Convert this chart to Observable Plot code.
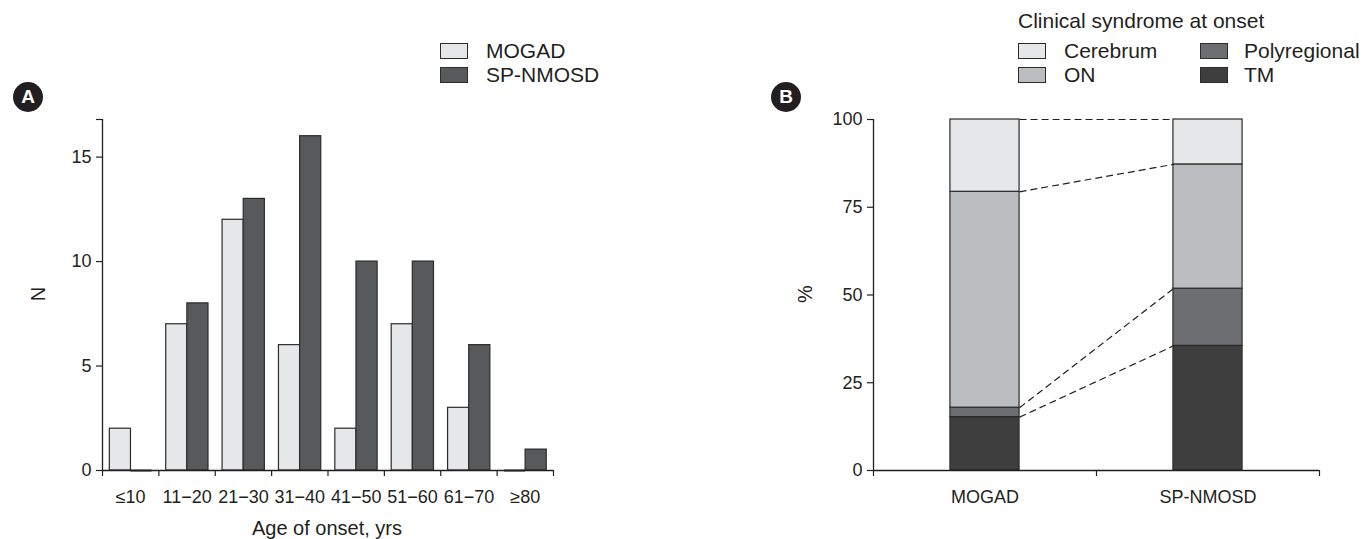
<!DOCTYPE html>
<html>
<head>
<meta charset="utf-8">
<script src="https://cdn.jsdelivr.net/npm/d3@7"></script>
<script src="https://cdn.jsdelivr.net/npm/@observablehq/plot@0.6"></script>
<style>
  html, body { margin: 0; padding: 0; background: #fff; }
  #root { position: relative; width: 1367px; height: 539px; overflow: hidden; font-family: "Liberation Sans", Arial, Helvetica, sans-serif; color: #231f20; }
  .panel { position: absolute; top: 0; }
  .sw { position: absolute; box-sizing: border-box; border: 1.5px solid #2b2b2b; }
  .lt { position: absolute; font-size: 21px; line-height: 24px; white-space: nowrap; }
  .badge { position: absolute; border-radius: 50%; background: #231f20; color: #fff; font-weight: bold; text-align: center; }
  .ttl { position: absolute; font-size: 20px; line-height: 22px; white-space: nowrap; }
</style>
</head>
<body>
<div id="root"></div>
<script>
// ---------- data ----------
const ageGroups = ["≤10", "11−20", "21−30", "31−40", "41−50", "51−60", "61−70", "≥80"];
const mogadN = [2, 7, 12, 6, 2, 7, 3, 0];
const nmosdN = [0, 8, 13, 16, 10, 10, 6, 1];
const seriesNames = ["MOGAD", "SP-NMOSD"];
const seriesFills = ["#e6e7e8", "#58595b"];
const yTicksA = [0, 5, 10, 15];
const yMaxA = 16.8;

const groupsB = ["MOGAD", "SP-NMOSD"];
const syndromes = ["TM", "Polyregional", "ON", "Cerebrum"];           // bottom to top
const syndromeFills = ["#3e3e3f", "#6d6e71", "#bcbdc0", "#e6e7e8"];
const mogadPct = [15.2, 2.7, 61.5, 20.6];
const nmosdPct = [35.5, 16.3, 35.4, 12.8];
const yTicksB = [0, 25, 50, 75, 100];
const legendBOrder = [["Cerebrum", "Polyregional"], ["ON", "TM"]];

// ---------- setup ----------
const FONT = '"Liberation Sans", Arial, Helvetica, sans-serif';
const TICK_FS = 18;
const root = document.getElementById("root");
const INK = "#231f20";
const EDGE = "#2b2b2b";

function add(html) { root.insertAdjacentHTML("beforeend", html); }

// ---------- Panel A ----------
const rowsA = ageGroups.flatMap((g, i) => [mogadN, nmosdN].map((arr, s) => ({ g, i, s, n: arr[i] })));
const bx1 = d => d.i + 0.13 + d.s * 0.375;
const bx2 = d => d.i + 0.13 + (d.s + 1) * 0.375;

const plotA = Plot.plot({
  width: 683, height: 539,
  marginLeft: 102, marginRight: 130, marginTop: 119, marginBottom: 69,
  style: { fontFamily: FONT, fontSize: TICK_FS + "px", color: INK, background: "transparent", overflow: "visible" },
  color: { type: "identity" },
  x: { type: "linear", domain: [0, ageGroups.length] },
  y: { type: "linear", domain: [0, yMaxA] },
  marks: [
    Plot.rect(rowsA, { x1: bx1, x2: bx2, y1: () => 0, y2: "n", fill: d => seriesFills[d.s], stroke: EDGE, strokeWidth: 1.2 }),
    Plot.ruleY(rowsA.filter(d => d.n === 0), { x1: bx1, x2: bx2, y: "n", stroke: EDGE, strokeWidth: 2 }),
    Plot.ruleX([0], { stroke: INK, strokeWidth: 1.3 }),
    Plot.ruleY([0], { stroke: INK, strokeWidth: 1.3 }),
    Plot.axisY({ ticks: [...yTicksA, yMaxA], tickFormat: d => yTicksA.includes(d) ? String(d) : "", tickSize: 6, tickPadding: 5, label: null, strokeWidth: 1.2, fontSize: TICK_FS }),
    Plot.axisX({ ticks: d3.range(ageGroups.length + 1), tickFormat: () => "", tickSize: 6, label: null, strokeWidth: 1.2 }),
    Plot.axisX({ ticks: ageGroups.map((_, i) => i + 0.5), tickFormat: d => ageGroups[Math.floor(d)], tickSize: 0, tickPadding: 20, label: null, fontSize: TICK_FS })
  ]
});
plotA.classList.add("panel");
plotA.style.left = "0px";
root.appendChild(plotA);

// ---------- Panel B ----------
const halfW = 0.155;
const cumM = d3.cumsum(mogadPct), cumS = d3.cumsum(nmosdPct);
const rowsB = groupsB.flatMap((g, i) => {
  const vals = i === 0 ? mogadPct : nmosdPct;
  const cum = i === 0 ? cumM : cumS;
  return vals.map((v, k) => ({ g, i, k, y1: cum[k] - v, y2: cum[k] }));
});
const linksB = syndromes.map((s, k) => ({ s, y1: cumM[k], y2: cumS[k] }));

const plotB = Plot.plot({
  width: 684, height: 539,
  marginLeft: 190, marginRight: 48, marginTop: 119, marginBottom: 69,
  style: { fontFamily: FONT, fontSize: TICK_FS + "px", color: INK, background: "transparent", overflow: "visible" },
  color: { type: "identity" },
  x: { type: "linear", domain: [0, groupsB.length] },
  y: { type: "linear", domain: [0, 100] },
  marks: [
    Plot.rect(rowsB, { x1: d => d.i + 0.5 - halfW, x2: d => d.i + 0.5 + halfW, y1: "y1", y2: "y2", fill: d => syndromeFills[d.k], stroke: EDGE, strokeWidth: 1.2 }),
    Plot.link(linksB, { x1: () => 0.5 + halfW, x2: () => 1.5 - halfW, y1: "y1", y2: "y2", stroke: INK, strokeWidth: 1.2, strokeDasharray: "7,4" }),
    Plot.ruleX([0], { stroke: INK, strokeWidth: 1.3 }),
    Plot.ruleY([0], { stroke: INK, strokeWidth: 1.3 }),
    Plot.axisY({ ticks: yTicksB, tickSize: 6, tickPadding: 5, label: null, strokeWidth: 1.2, fontSize: TICK_FS }),
    Plot.axisX({ ticks: d3.range(groupsB.length + 1), tickFormat: () => "", tickSize: 6, label: null, strokeWidth: 1.2 }),
    Plot.axisX({ ticks: groupsB.map((_, i) => i + 0.5), tickFormat: d => groupsB[Math.floor(d)], tickSize: 0, tickPadding: 20, label: null, fontSize: TICK_FS })
  ]
});
plotB.classList.add("panel");
plotB.style.left = "683px";
root.appendChild(plotB);

// ---------- overlays ----------
// panel badges
add(`<div class="badge" style="left:13px;top:82px;width:30px;height:30px;line-height:30px;font-size:19px;">A</div>`);
add(`<div class="badge" style="left:771px;top:82px;width:30px;height:30px;line-height:30px;font-size:19px;">B</div>`);

// axis titles
add(`<div class="ttl" style="left:227px;width:200px;text-align:center;top:517px;">Age of onset, yrs</div>`);
add(`<div class="ttl" style="left:28px;top:283px;width:20px;text-align:center;transform:rotate(-90deg);">N</div>`);
add(`<div class="ttl" style="left:795px;top:283px;width:20px;text-align:center;transform:rotate(-90deg);">%</div>`);

// legend A
seriesNames.forEach((name, j) => {
  const cy = 51 + j * 24;
  add(`<div class="sw" style="left:440px;top:${cy - 8}px;width:28px;height:16px;background:${seriesFills[j]};"></div>`);
  add(`<div class="lt" style="left:486px;top:${cy - 12}px;">${name}</div>`);
});

// legend B
add(`<div class="lt" style="left:1018px;top:9px;">Clinical syndrome at onset</div>`);
legendBOrder.forEach((row, r) => {
  const cy = 51 + r * 24;
  row.forEach((name, c) => {
    const k = syndromes.indexOf(name);
    const sx = c === 0 ? 1018 : 1200;
    const tx = c === 0 ? 1064 : 1244;
    add(`<div class="sw" style="left:${sx}px;top:${cy - 8}px;width:28px;height:16px;background:${syndromeFills[k]};"></div>`);
    add(`<div class="lt" style="left:${tx}px;top:${cy - 12}px;">${name}</div>`);
  });
});
</script>
</body>
</html>
